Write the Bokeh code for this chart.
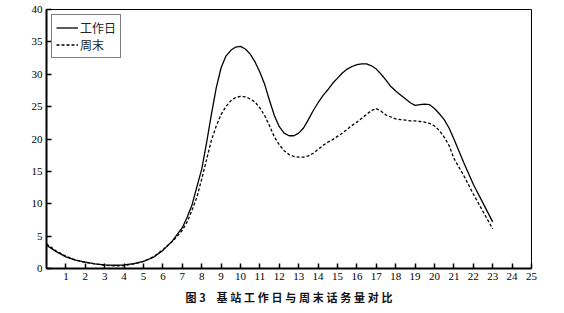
from bokeh.plotting import figure
from bokeh.models import FixedTicker, Title, Legend, LegendItem, Range1d
from bokeh.embed import file_html
from bokeh.resources import INLINE

hours_w = [0, 0.5, 1, 1.5, 2, 2.5, 3, 3.5, 4, 4.5, 5, 5.5, 6, 6.5, 7,
           7.25, 7.5, 7.75, 8, 8.25, 8.5, 8.75, 9, 9.25, 9.5, 9.75, 10, 10.25,
           10.5, 10.75, 11, 11.25, 11.5, 11.75, 12, 12.25, 12.5, 12.75, 13,
           13.25, 13.5, 13.75, 14, 14.25, 14.5, 14.75, 15, 15.25, 15.5, 15.75,
           16, 16.25, 16.5, 16.75, 17, 17.25, 17.5, 17.75, 18, 18.25, 18.5,
           18.75, 19, 19.25, 19.5, 19.75, 20, 20.25, 20.5, 20.75, 21, 21.5,
           22, 22.5, 23]

workday = [3.6, 2.6, 1.8, 1.3, 1.0, 0.7, 0.55, 0.5, 0.55, 0.75, 1.1, 1.7, 2.8,
           4.3, 6.3,
           7.9, 9.8, 12.6, 15.3, 19.4, 23.8, 27.9, 31.0, 32.8, 33.7, 34.2, 34.3,
           33.9, 33.1, 31.9, 30.3, 28.4, 25.9, 23.6, 21.9, 20.9, 20.5, 20.5,
           20.9, 21.7, 23.0, 24.4, 25.6, 26.7, 27.6, 28.6, 29.4, 30.2, 30.8,
           31.2, 31.5, 31.6, 31.6, 31.3, 30.8, 30.0, 29.1, 28.1, 27.4, 26.8,
           26.2, 25.6, 25.2, 25.3, 25.4, 25.3, 24.7, 23.9, 23.0, 21.7, 20.0,
           16.4, 13.0, 10.1, 7.2]

hours_e = [0, 0.5, 1, 1.5, 2, 2.5, 3, 3.5, 4, 4.5, 5, 5.5, 6, 6.5, 7,
           7.25, 7.5, 7.75, 8, 8.25, 8.5, 8.75, 9, 9.25, 9.5, 9.75, 10, 10.25,
           10.5, 10.75, 11, 11.25, 11.5, 11.75, 12, 12.25, 12.5, 12.75, 13,
           13.25, 13.5, 13.75, 14, 14.25, 14.5, 14.75, 15, 15.25, 15.5, 15.75,
           16, 16.25, 16.5, 16.75, 17, 17.25, 17.5, 17.75, 18, 18.25, 18.5,
           18.75, 19, 19.25, 19.5, 19.75, 20, 20.25, 20.5, 20.75, 21, 21.5,
           22, 22.5, 23]

weekend = [3.8, 2.7, 1.9, 1.3, 0.95, 0.7, 0.5, 0.4, 0.45, 0.7, 1.1, 1.8, 2.9,
           4.2, 5.9,
           7.2, 9.0, 11.0, 13.8, 16.8, 19.8, 22.0, 23.8, 25.0, 25.9, 26.4,
           26.6, 26.5, 26.2, 25.7, 24.8, 23.6, 22.0, 20.3, 19.1, 18.2, 17.6,
           17.3, 17.2, 17.2, 17.4, 17.8, 18.4, 19.0, 19.5, 19.9, 20.4, 20.9,
           21.5, 22.1, 22.6, 23.2, 23.8, 24.4, 24.7, 24.3, 23.7, 23.4, 23.1,
           23.0, 22.9, 22.8, 22.8, 22.7, 22.6, 22.4, 22.0, 21.3, 20.3, 19.0,
           17.0, 14.4, 11.5, 8.8, 6.1]

x_ticks = list(range(1, 26))
y_ticks = [0, 5, 10, 15, 20, 25, 30, 35, 40]
series_names = ["工作日", "周末"]
sp = "\u2005"
caption = "图" + sp + "3" + "\u2002\u2002" + sp.join("基站工作日与周末话务量对比")

p = figure(width=564, height=313, output_backend="svg", toolbar_location=None,
           x_range=Range1d(0, 25), y_range=Range1d(0, 40),
           min_border_left=46, min_border_right=33, min_border_top=9,
           min_border_bottom=45)

p.background_fill_color = "white"
p.border_fill_color = "white"
p.outline_line_color = "black"
p.outline_line_width = 1
p.grid.visible = False

r1 = p.line(hours_w, workday, line_color="black", line_width=1.3)
r2 = p.line(hours_e, weekend, line_color="black", line_width=1.3, line_dash="3 2")

for ax in (p.xaxis[0], p.yaxis[0]):
    ax.axis_line_width = 2
    ax.axis_line_color = "black"
    ax.major_tick_in = 5
    ax.major_tick_out = 0
    ax.major_tick_line_width = 1.5
    ax.minor_tick_line_color = None
    ax.major_label_text_font = "Liberation Serif"
    ax.major_label_text_font_size = "11px"
    ax.major_label_text_color = "black"
    ax.major_label_standoff = 4

p.xaxis[0].ticker = FixedTicker(ticks=x_ticks)
p.yaxis[0].ticker = FixedTicker(ticks=y_ticks)

legend = Legend(items=[LegendItem(label=series_names[0], renderers=[r1]),
                       LegendItem(label=series_names[1], renderers=[r2])],
                location="top_left")
legend.margin = 5
legend.padding = 4
legend.spacing = 0
legend.glyph_width = 22
legend.glyph_height = 13
legend.label_height = 13
legend.label_standoff = 2
legend.label_text_font = "Noto Sans CJK SC"
legend.label_text_font_size = "12px"
legend.label_text_color = "#222222"
legend.border_line_color = "black"
legend.border_line_width = 1
legend.background_fill_alpha = 1
p.add_layout(legend)

cap = Title(text=caption, align="center", text_font="Noto Sans CJK SC",
            text_font_size="11px", text_font_style="bold", text_color="#111111",
            offset=0, standoff=9)
p.add_layout(cap, "below")

open("out.html", "w").write(file_html(p, INLINE))
